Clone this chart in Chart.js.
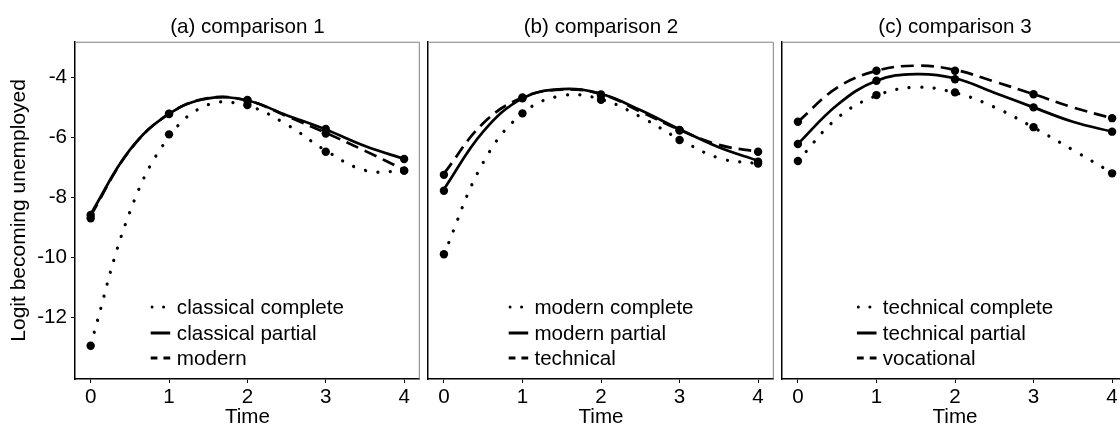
<!DOCTYPE html>
<html>
<head>
<meta charset="utf-8">
<script src="https://cdn.jsdelivr.net/npm/chart.js@4.4.1/dist/chart.umd.min.js"></script>
<style>
  html, body { margin: 0; padding: 0; background: #fff; }
  body { width: 1120px; height: 430px; overflow: hidden; position: relative; font-family: "Liberation Sans", Arial, sans-serif; }
  canvas { position: absolute; top: 0; }
  .legend { position: absolute; top: 294px; transform: translateX(-50%); font-size: 20.6px; color: #000; white-space: nowrap; }
  .legend div { height: 25.8px; display: flex; align-items: center; }
  .legend svg { margin-right: 6px; }
</style>
</head>
<body>
<canvas id="c1" width="424" height="430" style="left:0px"></canvas>
<canvas id="c2" width="354" height="430" style="left:424px"></canvas>
<canvas id="c3" width="354" height="430" style="left:778px"></canvas>
<script>
// observed time points and the finer grid the fitted curves were read on
const TIME = [0, 1, 2, 3, 4];
const CURVE_T = [0, 0.5, 1, 1.5, 2, 2.5, 3, 3.5, 4];
const X_TICKS = [0, 1, 2, 3, 4];
const Y_TICKS = [-12, -10, -8, -6, -4];
const Y_LABEL = 'Logit becoming unemployed';
const X_LABEL = 'Time';

const TITLES = ['(a) comparison 1', '(b) comparison 2', '(c) comparison 3'];
const NAMES_A = ['classical complete', 'classical partial', 'modern'];
const NAMES_B = ['modern complete', 'modern partial', 'technical'];
const NAMES_C = ['technical complete', 'technical partial', 'vocational'];

// observed logits (dots)
const OBS_A_COMPLETE = [-12.94, -5.89, -4.91, -6.47, -7.1];
const OBS_A_PARTIAL = [-8.58, -5.21, -4.74, -5.71, -6.71];
const OBS_A_MODERN = [-8.69, -5.2, -4.76, -5.86, -7.1];
const OBS_B_COMPLETE = [-9.89, -5.19, -4.74, -6.08, -6.86];
const OBS_B_PARTIAL = [-7.77, -4.69, -4.6, -5.74, -6.8];
const OBS_B_TECHNICAL = [-7.24, -4.66, -4.56, -5.76, -6.47];
const OBS_C_COMPLETE = [-6.78, -4.58, -4.49, -5.65, -7.19];
const OBS_C_PARTIAL = [-6.21, -4.1, -4.05, -4.99, -5.8];
const OBS_C_VOCATIONAL = [-5.47, -3.77, -3.77, -4.55, -5.35];

// fitted curves, read at CURVE_T
const FIT_A_COMPLETE = [-12.9, -8.48, -5.97, -4.9, -4.94, -5.56, -6.43, -7.09, -7.12];
const FIT_A_PARTIAL = [-8.55, -6.41, -5.21, -4.69, -4.76, -5.25, -5.73, -6.28, -6.71];
const FIT_A_MODERN = [-8.6, -6.42, -5.2, -4.68, -4.76, -5.28, -5.84, -6.44, -7.07];
const FIT_B_COMPLETE = [-9.89, -6.83, -5.19, -4.6, -4.72, -5.3, -6.05, -6.68, -6.87];
const FIT_B_PARTIAL = [-7.72, -5.8, -4.69, -4.38, -4.54, -5.08, -5.72, -6.32, -6.77];
const FIT_B_TECHNICAL = [-7.2, -5.52, -4.66, -4.4, -4.54, -5.13, -5.74, -6.24, -6.47];
const FIT_C_COMPLETE = [-6.78, -5.35, -4.6, -4.32, -4.5, -4.98, -5.66, -6.41, -7.17];
const FIT_C_PARTIAL = [-6.21, -4.91, -4.1, -3.88, -4.02, -4.5, -4.99, -5.47, -5.8];
const FIT_C_VOCATIONAL = [-5.47, -4.33, -3.77, -3.6, -3.74, -4.13, -4.55, -4.99, -5.35];

Chart.defaults.font.family = '"Liberation Sans", Arial, sans-serif';
Chart.defaults.color = '#000';

// dotted / solid / dashed, same order as the names
const LINE_DASH = [[0.1, 12.4], [], [13, 7]];
const KEY_DASH = ['0.1 11.5', '', '7 6'];

const framePlugin = {
  id: 'frame',
  afterDraw(chart) {
    const { ctx, chartArea: a } = chart;
    ctx.save();
    ctx.strokeStyle = '#808080';
    ctx.lineWidth = 1;
    ctx.beginPath();
    ctx.moveTo(a.left, a.top + 0.5);
    ctx.lineTo(a.right - 0.5, a.top + 0.5);
    ctx.lineTo(a.right - 0.5, a.bottom);
    ctx.stroke();
    ctx.restore();
  }
};

const panels = [
  { id: 'c1', left: 0, padRight: 2, yWidth: 75, showY: true, title: TITLES[0], names: NAMES_A,
    obs: [OBS_A_COMPLETE, OBS_A_PARTIAL, OBS_A_MODERN], fits: [FIT_A_COMPLETE, FIT_A_PARTIAL, FIT_A_MODERN] },
  { id: 'c2', left: 424, padRight: 3, yWidth: 4, showY: false, title: TITLES[1], names: NAMES_B,
    obs: [OBS_B_COMPLETE, OBS_B_PARTIAL, OBS_B_TECHNICAL], fits: [FIT_B_COMPLETE, FIT_B_PARTIAL, FIT_B_TECHNICAL] },
  { id: 'c3', left: 778, padRight: 3, yWidth: 4, showY: false, title: TITLES[2], names: NAMES_C,
    obs: [OBS_C_COMPLETE, OBS_C_PARTIAL, OBS_C_VOCATIONAL], fits: [FIT_C_COMPLETE, FIT_C_PARTIAL, FIT_C_VOCATIONAL] }
];

panels.forEach(p => {
  const datasets = [];
  p.fits.forEach((fit, i) => {
    datasets.push({
      type: 'line',
      label: p.names[i],
      data: CURVE_T.map((t, k) => ({ x: t, y: fit[k] })),
      borderColor: '#000',
      borderWidth: i === 0 ? 3.2 : 2.7,
      borderDash: LINE_DASH[i],
      borderCapStyle: i === 0 ? 'round' : 'butt',
      tension: 0.4,
      pointRadius: 0,
      fill: false
    });
  });
  p.obs.forEach((vals, i) => {
    datasets.push({
      type: 'scatter',
      label: p.names[i] + ' observed',
      data: TIME.map((t, k) => ({ x: t, y: vals[k] })),
      backgroundColor: '#000',
      borderColor: '#000',
      pointRadius: 4.2,
      borderWidth: 0
    });
  });

  const chart = new Chart(document.getElementById(p.id), {
    type: 'line',
    data: { datasets: datasets },
    options: {
      responsive: false,
      animation: false,
      devicePixelRatio: 1,
      layout: { padding: { left: 0, right: p.padRight, top: 0, bottom: 0 } },
      plugins: {
        legend: { display: false },
        tooltip: { enabled: false },
        title: {
          display: true,
          fullSize: false,
          text: p.title,
          color: '#000',
          font: { size: 20.6, weight: 'normal' },
          padding: { top: 15, bottom: 2 }
        }
      },
      scales: {
        x: {
          type: 'linear',
          min: -0.2,
          max: 4.2,
          afterBuildTicks: s => { s.ticks = X_TICKS.map(v => ({ value: v })); },
          afterFit: s => { s.height = 51; },
          ticks: { color: '#000', font: { size: 20.6 }, padding: 2, maxRotation: 0, autoSkip: false },
          grid: { drawOnChartArea: false, drawTicks: true, tickLength: 4, color: '#000', lineWidth: 1 },
          border: { display: true, color: '#000', width: 1.5 },
          title: { display: true, text: X_LABEL, color: '#000', font: { size: 20.6 }, padding: { top: 0, bottom: 0 } }
        },
        y: {
          type: 'linear',
          min: -14.05,
          max: -2.8,
          afterBuildTicks: s => { s.ticks = Y_TICKS.map(v => ({ value: v })); },
          afterFit: s => { s.width = p.yWidth; },
          ticks: { display: p.showY, color: '#000', font: { size: 20.6 }, padding: 4 },
          grid: { display: p.showY, drawOnChartArea: false, drawTicks: true, tickLength: 4, color: '#000', lineWidth: 1 },
          border: { display: true, color: '#000', width: 1.5 },
          title: { display: p.showY, text: Y_LABEL, color: '#000', font: { size: 21 }, padding: { top: 7, bottom: 0 } }
        }
      }
    },
    plugins: [framePlugin]
  });

  // legend inside the panel, centred on the plot area
  const leg = document.createElement('div');
  leg.className = 'legend';
  p.names.forEach((name, i) => {
    const row = document.createElement('div');
    const dash = KEY_DASH[i] ? ' stroke-dasharray="' + KEY_DASH[i] + '"' : '';
    const cap = i === 0 ? 'round' : 'butt';
    const x1 = i === 0 ? 1.5 : 0;
    row.innerHTML = '<svg width="20" height="10"><line x1="' + x1 + '" y1="5" x2="20" y2="5" stroke="#000" stroke-width="3" stroke-linecap="' + cap + '"' + dash + '/></svg><span>' + name + '</span>';
    leg.appendChild(row);
  });
  const area = chart.chartArea;
  leg.style.left = (p.left + (area.left + area.right) / 2) + 'px';
  document.body.appendChild(leg);
});
</script>
</body>
</html>
